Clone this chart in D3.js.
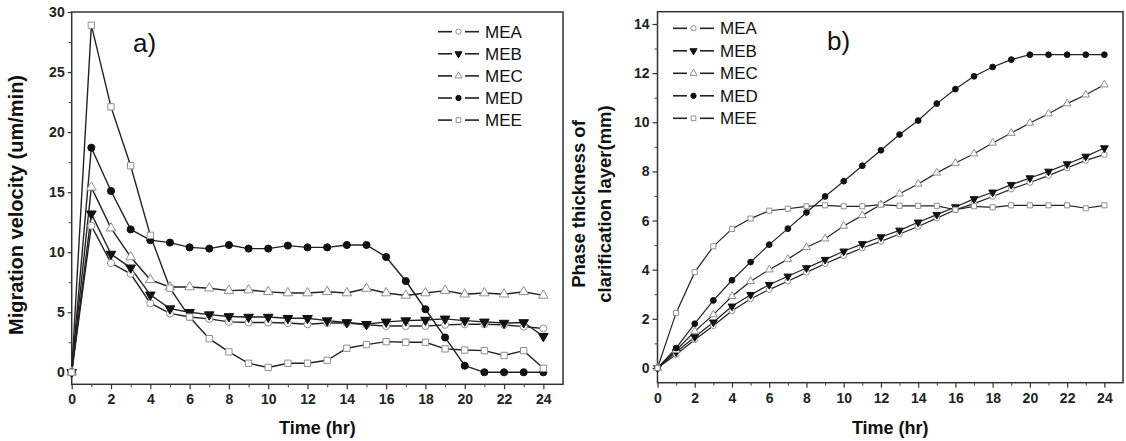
<!DOCTYPE html>
<html><head><meta charset="utf-8">
<script src="https://cdn.jsdelivr.net/npm/d3@7"></script>
<style>body{margin:0;background:#fff}svg{display:block}</style>
</head><body><svg id="c" width="1126" height="441"></svg>
<script>
const hours = [0,1,2,3,4,5,6,7,8,9,10,11,12,13,14,15,16,17,18,19,20,21,22,23,24];
const seriesNames = ["MEA","MEB","MEC","MED","MEE"];
const xTicks = [0,2,4,6,8,10,12,14,16,18,20,22,24];
const yTicksA = [0,5,10,15,20,25,30];
const yTicksB = [0,2,4,6,8,10,12,14];

// a) Migration velocity (um/min)
const velMEA = [0,12.2,9.1,8.2,5.75,4.9,4.6,4.45,4.2,4.15,4.15,4.1,4.0,4.1,4.1,3.95,3.85,3.85,3.85,3.95,4.0,4.0,3.95,3.8,3.65];
const velMEB = [0,13.2,9.85,8.7,6.45,5.3,5.0,4.8,4.65,4.6,4.6,4.5,4.5,4.3,4.15,4.0,4.2,4.3,4.35,4.45,4.3,4.2,4.1,4.15,3.0];
const velMEC = [0,15.4,12.0,9.6,7.7,7.1,7.1,7.0,6.8,6.85,6.7,6.6,6.6,6.7,6.6,6.97,6.6,6.4,6.6,6.8,6.5,6.6,6.5,6.7,6.4];
const velMED = [0,18.7,15.1,11.9,11.0,10.8,10.4,10.3,10.6,10.3,10.3,10.55,10.4,10.4,10.6,10.6,9.6,7.6,5.25,2.9,0.55,0,0,0,0];
const velMEE = [0,28.9,22.1,17.2,11.4,7.0,4.6,2.8,1.7,0.75,0.4,0.75,0.75,1.0,2.0,2.3,2.55,2.5,2.5,1.95,1.85,1.8,1.4,1.8,0.33];

// b) Phase thickness of clarification layer (mm)
const thkMEA = [0,0.55,1.15,1.72,2.33,2.81,3.19,3.53,3.89,4.24,4.57,4.88,5.15,5.45,5.76,6.1,6.44,6.69,6.98,7.28,7.55,7.83,8.14,8.45,8.68];
const thkMEB = [0,0.65,1.26,1.86,2.51,2.98,3.39,3.73,4.07,4.41,4.75,5.05,5.33,5.6,5.93,6.24,6.55,6.88,7.15,7.46,7.73,8.0,8.3,8.61,8.95];
const thkMEC = [0,0.72,1.49,2.17,2.92,3.53,4.0,4.43,4.91,5.26,5.78,6.21,6.65,7.09,7.49,7.94,8.34,8.72,9.16,9.56,9.97,10.35,10.76,11.12,11.53];
const thkMED = [0,0.81,1.8,2.75,3.57,4.31,5.02,5.67,6.33,6.98,7.6,8.23,8.86,9.5,10.07,10.76,11.35,11.87,12.25,12.55,12.75,12.75,12.75,12.75,12.75];
const thkMEE = [0,2.24,3.9,4.95,5.66,6.08,6.4,6.48,6.58,6.62,6.58,6.58,6.65,6.6,6.6,6.6,6.44,6.58,6.54,6.62,6.62,6.62,6.62,6.5,6.62];

const styles = {
  MEA:{sym:d3.symbolCircle, fill:"#fff", stroke:"#8f8f8f"},
  MEB:{sym:d3.symbolTriangle, rot:180, fill:"#111", stroke:"#111"},
  MEC:{sym:d3.symbolTriangle, fill:"#fff", stroke:"#8f8f8f"},
  MED:{sym:d3.symbolCircle, fill:"#111", stroke:"#111"},
  MEE:{sym:d3.symbolSquare, fill:"#fff", stroke:"#8f8f8f"}
};
const FONT = "'Liberation Sans', Arial, sans-serif";
const svg = d3.select("#c");

function panel(cfg){
  const g = svg.append("g");
  const x = d3.scaleLinear().domain([0,25]).range([cfg.x0, cfg.x1]);
  const y = d3.scaleLinear().domain(cfg.ydom).range([cfg.y1, cfg.y0]);
  g.append("rect").attr("x",cfg.x0).attr("y",cfg.y0).attr("width",cfg.x1-cfg.x0).attr("height",cfg.y1-cfg.y0)
    .attr("fill","none").attr("stroke","#333").attr("stroke-width",1.5);
  const xa = g.append("g").attr("transform",`translate(0,${cfg.y1})`)
    .call(d3.axisBottom(x).tickValues(hours.filter(h=>h%2===1)).tickSize(3).tickFormat(""));
  xa.select(".domain").remove(); xa.selectAll("line").attr("stroke","#444");
  const ya = g.append("g").attr("transform",`translate(${cfg.x0},0)`)
    .call(d3.axisLeft(y).tickValues(cfg.yminor).tickSize(3).tickFormat(""));
  ya.select(".domain").remove(); ya.selectAll("line").attr("stroke","#444");
  const xb = g.append("g").attr("transform",`translate(0,${cfg.y1})`)
    .call(d3.axisBottom(x).tickValues(xTicks).tickSize(5).tickPadding(5));
  xb.select(".domain").remove();
  const yb = g.append("g").attr("transform",`translate(${cfg.x0},0)`)
    .call(d3.axisLeft(y).tickValues(cfg.yticks).tickSize(cfg.ytickSize).tickPadding(cfg.ytickPad));
  yb.select(".domain").remove();
  [xb,yb].forEach(a=>{
    a.selectAll("line").attr("stroke","#333").attr("stroke-width",1.2);
    a.selectAll("text").attr("font-family",FONT).attr("font-weight","bold").attr("font-size",14).attr("fill","#222");
  });
  const line = d3.line().x((d,i)=>x(hours[i])).y(d=>y(d));
  seriesNames.forEach((name,k)=>{
    g.append("path").datum(cfg.data[k]).attr("d",line).attr("fill","none").attr("stroke","#222").attr("stroke-width",cfg.lw);
  });
  seriesNames.forEach((name,k)=>{
    const st = styles[name];
    const sym = d3.symbol().type(st.sym).size(cfg.msize);
    g.selectAll(null).data(cfg.data[k]).join("path")
      .attr("d",sym)
      .attr("transform",(d,i)=>`translate(${x(hours[i])},${y(d)})${st.rot?` rotate(${st.rot})`:""}`)
      .attr("fill",st.fill).attr("stroke",st.stroke).attr("stroke-width",1);
  });
  seriesNames.forEach((name,k)=>{
    const st = styles[name];
    const ly = cfg.leg.y + k*cfg.leg.dy;
    const lx = cfg.leg.x;
    g.append("line").attr("x1",lx).attr("x2",lx+14).attr("y1",ly).attr("y2",ly).attr("stroke","#222").attr("stroke-width",1.6);
    g.append("line").attr("x1",lx+27).attr("x2",lx+41).attr("y1",ly).attr("y2",ly).attr("stroke","#222").attr("stroke-width",1.6);
    g.append("path").attr("d",d3.symbol().type(st.sym).size(22)())
      .attr("transform",`translate(${lx+20.5},${ly})${st.rot?` rotate(${st.rot})`:""}`)
      .attr("fill",st.fill).attr("stroke",st.stroke).attr("stroke-width",1);
    g.append("text").attr("x",lx+47).attr("y",ly).attr("dy","0.36em").text(name)
      .attr("font-family",FONT).attr("font-size",17).attr("fill","#111");
  });
  g.append("text").attr("x",cfg.lab.x).attr("y",cfg.lab.y).text(cfg.lab.t)
    .attr("font-family",FONT).attr("font-size",26).attr("fill","#111");
  g.append("text").attr("x",(cfg.x0+cfg.x1)/2).attr("y",434).attr("text-anchor","middle").text("Time (hr)")
    .attr("font-family",FONT).attr("font-weight","bold").attr("font-size",18).attr("fill","#111");
  cfg.ytitle.forEach((t,i)=>{
    g.append("text").attr("transform",`translate(${cfg.ytx[i]},${cfg.ytc}) rotate(-90)`).attr("text-anchor","middle")
      .attr("dy","0.35em").text(t)
      .attr("font-family",FONT).attr("font-weight","bold").attr("font-size",cfg.yfs).attr("fill","#111");
  });
}

panel({x0:71.7, x1:563, y0:12, y1:384.3, ydom:[-1,30], yticks:yTicksA, yminor:[2.5,7.5,12.5,17.5,22.5,27.5],
  ytickSize:4, ytickPad:3, msize:40, lw:1.4,
  data:[velMEA,velMEB,velMEC,velMED,velMEE],
  leg:{x:438, y:31.7, dy:22.1}, lab:{x:133, y:52, t:"a)"},
  ytitle:["Migration velocity (um/min)"], ytx:[16], ytc:205, yfs:20});

panel({x0:657.5, x1:1123, y0:11.7, y1:382.7, ydom:[-0.6,14.5], yticks:yTicksB, yminor:[1,3,5,7,9,11,13],
  ytickSize:5, ytickPad:3, msize:26, lw:1.2,
  data:[thkMEA,thkMEB,thkMEC,thkMED,thkMEE],
  leg:{x:673, y:28.3, dy:22.5}, lab:{x:827, y:50, t:"b)"},
  ytitle:["Phase thickness of","clarification layer(mm)"], ytx:[579,605], ytc:204, yfs:18.5});
</script></body></html>
